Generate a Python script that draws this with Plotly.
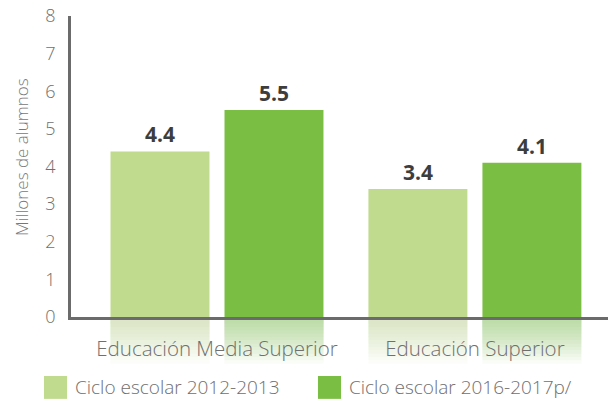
import plotly.graph_objects as go

categories = ["Educación Media Superior", "Educación Superior"]
series_names = ["Ciclo escolar 2012-2013", "Ciclo escolar 2016-2017p/"]
values_2012 = [4.4, 3.4]
values_2016 = [5.5, 4.1]
y_ticks = [0, 1, 2, 3, 4, 5, 6, 7, 8]

colors = ["#C0DA8E", "#7BBE44"]
FONT = "Open Sans"
bargap = 0.116
bargroupgap = 0.132

fig = go.Figure()
for name, vals, col in zip(series_names, [values_2012, values_2016], colors):
    fig.add_trace(go.Bar(
        x=categories, y=vals, name=name, marker=dict(color=col, line=dict(width=0)),
        texttemplate="%{y:.1f}", textposition="outside", cliponaxis=False,
        textfont=dict(family=FONT, size=21, color="#3d3d3d", weight="bold"),
        showlegend=False,
    ))

# reflections below the baseline (fading)
slot = (1 - bargap) / 2
bw = slot * (1 - bargroupgap)
shapes = []
N = 14
depth = 0.155
for j, (vals, col) in enumerate(zip([values_2012, values_2016], colors)):
    for i in range(len(categories)):
        c = i + (j - 0.5) * slot
        for k in range(1, N + 1):
            shapes.append(dict(type="rect", xref="x", yref="paper", layer="below",
                               x0=c - bw / 2, x1=c + bw / 2, y0=0, y1=-depth * k / N,
                               fillcolor=col, opacity=0.045, line=dict(width=0)))

# manual legend
leg_x = [-0.0503, 0.4599]
for lx, col, name in zip(leg_x, colors, series_names):
    shapes.append(dict(type="rect", xref="paper", yref="paper", x0=lx, x1=lx + 0.043,
                       y0=-0.196, y1=-0.272, fillcolor=col, line=dict(width=0)))
annotations = []
for lx, name in zip(leg_x, series_names):
    annotations.append(dict(xref="paper", yref="paper", x=lx + 0.054, y=-0.234, text=name,
                            showarrow=False, xanchor="left", yanchor="middle",
                            font=dict(family=FONT, size=19, color="#6f6f6f", weight=300)))
# y-axis title
annotations.append(dict(xref="paper", yref="paper", x=-0.0912, y=0.532, text="Millones de alumnos",
                        textangle=-90, showarrow=False, xanchor="center", yanchor="middle",
                        font=dict(family=FONT, size=17, color="#777777", weight=300)))

fig.update_layout(
    width=608, height=400, margin=dict(l=71, r=0, t=16, b=83),
    paper_bgcolor="white", plot_bgcolor="white",
    barmode="group", bargap=bargap, bargroupgap=bargroupgap,
    shapes=shapes, annotations=annotations,
    xaxis=dict(range=[-0.566, 1.516], showline=True, linecolor="#6b6b6b", linewidth=2.5,
               ticks="outside", ticklen=12, tickcolor="rgba(0,0,0,0)", automargin=False,
               tickfont=dict(family=FONT, size=20.5, color="#6f6f6f", weight=300), showgrid=False),
    yaxis=dict(range=[0, 8], tickvals=y_ticks, showline=True, linecolor="#6b6b6b", linewidth=2.5,
               ticks="outside", ticklen=9, tickcolor="rgba(0,0,0,0)", showgrid=False, zeroline=False,
               automargin=False,
               tickfont=dict(family=FONT, size=18, color="#6f6f6f", weight=300)),
)

# remove the default 8px body margin so the figure sits at the page's top-left corner
fig.write_html("out.html", config={"displayModeBar": False},
               post_script="document.body.style.margin='0';")
